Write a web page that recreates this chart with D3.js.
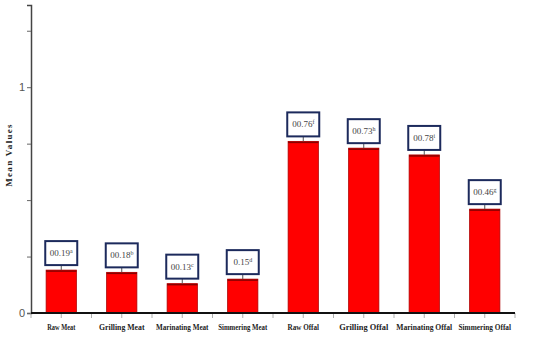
<!DOCTYPE html>
<html lang="en">
<head>
  <meta charset="UTF-8">
  <title>Mean Values</title>
  <script src="https://d3js.org/d3.v7.min.js"></script>
  <style>
    body { margin: 0; padding: 0; background: #fff; }
    svg { display: block; }
    .cat { font-family: 'Liberation Serif', serif; font-weight: bold; font-size: 8.5px; fill: #222; }
    .lab { font-family: 'Liberation Serif', serif; font-size: 9px; fill: #444; }
  </style>
</head>
<body>
  <div id="chart"></div>
  <script>
    // données
    const categories = ["Raw Meat", "Grilling Meat", "Marinating Meat", "Simmering Meat",
                        "Raw Offal", "Grilling Offal", "Marinating Offal", "Simmering Offal"];
    const values = [0.19, 0.18, 0.13, 0.15, 0.76, 0.73, 0.70, 0.46];
    const labels = ["00.19", "00.18", "00.13", "0.15", "00.76", "00.73", "00.78", "00.46"];
    const letters = ["a", "b", "c", "d", "f", "h", "i", "g"];
    const yTicks = [0, 0.25, 0.5, 0.75, 1, 1.25];

    const width = 533, height = 350;
    const margin = { top: 5, right: 18, bottom: 37, left: 31 };

    const svg = d3.select('#chart').append('svg')
      .attr('width', width)
      .attr('height', height);

    const x = d3.scaleBand()
      .domain(categories)
      .range([margin.left, width - margin.right])
      .paddingInner(0.5)
      .paddingOuter(0.25);

    const y = d3.scaleLinear()
      .domain([0, 1.364])
      .range([height - margin.bottom, margin.top]);

    // axe Y
    const yAxis = svg.append('g')
      .attr('transform', `translate(${margin.left},0)`)
      .call(d3.axisLeft(y).tickValues(yTicks).tickSize(4)
        .tickFormat(d => (d === 0 || d === 1) ? d : ''));
    yAxis.select('.domain').attr('stroke', '#444').attr('stroke-width', 1.5);
    yAxis.selectAll('.tick line').attr('stroke', '#666');
    yAxis.selectAll('.tick text')
      .attr('x', -6)
      .attr('fill', '#555')
      .style('font-family', 'Liberation Sans Narrow, Liberation Sans, sans-serif')
      .style('font-size', '11px');

    svg.append('text')
      .attr('class', 'cat')
      .attr('transform', `translate(12,${y(0.7)}) rotate(-90)`)
      .attr('text-anchor', 'middle')
      .style('font-size', '9px')
      .style('letter-spacing', '1.3px')
      .text('Mean Values');

    // ticks sous l'axe X
    const tickPos = [];
    categories.forEach(c => {
      tickPos.push(x(c) - x.step() * 0.25);
      tickPos.push(x(c) + x.bandwidth() / 2);
    });
    tickPos.push(width - margin.right);
    svg.append('g').selectAll('line')
      .data(tickPos)
      .enter().append('line')
      .attr('x1', d => d).attr('x2', d => d)
      .attr('y1', y(0)).attr('y2', y(0) + 5)
      .attr('stroke', '#999')
      .attr('stroke-width', 0.8);

    // barres
    svg.append('g').selectAll('rect')
      .data(values)
      .enter().append('rect')
      .attr('x', (d, i) => x(categories[i]))
      .attr('y', d => y(d))
      .attr('width', x.bandwidth())
      .attr('height', d => y(0) - y(d))
      .attr('fill', '#ff0000')
      .attr('stroke', '#b00000')
      .attr('stroke-width', 0.8);

    svg.append('g').selectAll('line')
      .data(values)
      .enter().append('line')
      .attr('x1', (d, i) => x(categories[i]))
      .attr('x2', (d, i) => x(categories[i]) + x.bandwidth())
      .attr('y1', d => y(d) + 1).attr('y2', d => y(d) + 1)
      .attr('stroke', '#8a0000')
      .attr('stroke-width', 1.5);

    // axe X
    svg.append('line')
      .attr('x1', margin.left).attr('x2', width - margin.right)
      .attr('y1', y(0)).attr('y2', y(0))
      .attr('stroke', '#111')
      .attr('stroke-width', 2.2);

    svg.append('g').selectAll('text')
      .data(categories)
      .enter().append('text')
      .attr('class', 'cat')
      .attr('x', d => x(d) + x.bandwidth() / 2)
      .attr('y', y(0) + 17)
      .attr('text-anchor', 'middle')
      .attr('textLength', d => d.length * 3.5)
      .attr('lengthAdjust', 'spacingAndGlyphs')
      .text(d => d);

    // étiquettes de valeur
    const boxW = 32, boxH = 24, gap = 5;
    const lg = svg.append('g').selectAll('g')
      .data(values)
      .enter().append('g')
      .attr('transform', (d, i) => `translate(${x(categories[i]) + x.bandwidth() / 2},${y(d)})`);

    lg.append('line')
      .attr('x1', 0).attr('x2', 0)
      .attr('y1', -gap).attr('y2', 0)
      .attr('stroke', '#555');

    lg.append('rect')
      .attr('x', -boxW / 2)
      .attr('y', -gap - boxH)
      .attr('width', boxW)
      .attr('height', boxH)
      .attr('fill', '#fff')
      .attr('stroke', '#1c2a5c')
      .attr('stroke-width', 2);

    const t = lg.append('text')
      .attr('class', 'lab')
      .attr('x', 0)
      .attr('y', -gap - boxH / 2 + 3)
      .attr('text-anchor', 'middle');
    t.append('tspan').text((d, i) => labels[i]);
    t.append('tspan')
      .attr('dy', -3)
      .style('font-size', '6px')
      .text((d, i) => letters[i]);
  </script>
</body>
</html>
